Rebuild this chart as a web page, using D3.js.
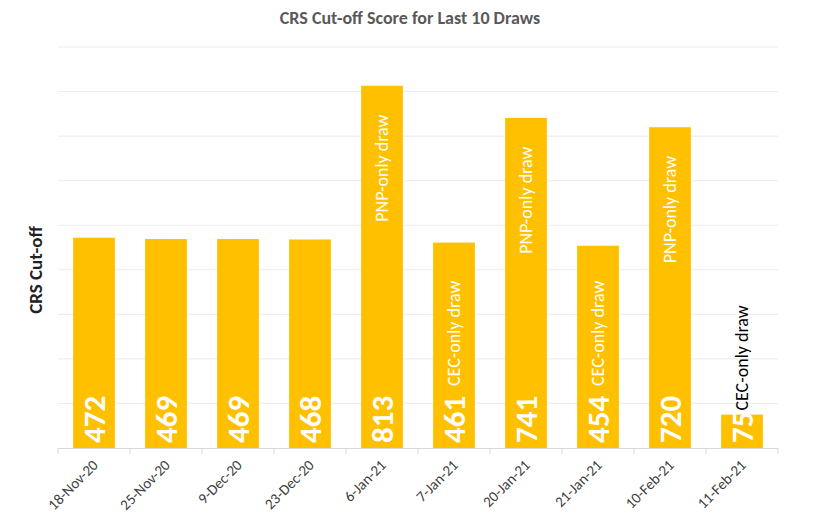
<!DOCTYPE html>
<html><head><meta charset="utf-8">
<script src="https://cdn.jsdelivr.net/npm/d3@7"></script>
<style>body{margin:0;background:#fff;font-family:Calibri,Carlito,"Open Sans",sans-serif;}</style>
</head><body><svg id="chart" width="820" height="530"></svg>
<script>
var dates = ['18-Nov-20','25-Nov-20','9-Dec-20','23-Dec-20','6-Jan-21','7-Jan-21','20-Jan-21','21-Jan-21','10-Feb-21','11-Feb-21'];
var scores = [472, 469, 469, 468, 813, 461, 741, 454, 720, 75];
var notes = ['', '', '', '', 'PNP-only draw', 'CEC-only draw', 'PNP-only draw', 'CEC-only draw', 'PNP-only draw', 'CEC-only draw'];
var yTicks = [0, 100, 200, 300, 400, 500, 600, 700, 800, 900];

var svg = d3.select('#chart');
var x = d3.scaleBand().domain(dates).range([58, 778]).paddingInner(0.42).paddingOuter(0.21);
var y = d3.scaleLinear().domain([0, 900]).range([448, 47]);

// gridlines
svg.selectAll('.grid').data(yTicks.slice(1)).enter().append('line')
    .attr('x1', 58).attr('x2', 778)
    .attr('y1', function(d) { return y(d); }).attr('y2', function(d) { return y(d); })
    .attr('stroke', '#ececec');

svg.selectAll('.bar').data(scores).enter().append('rect')
    .attr('x', function(d, i) { return x(dates[i]); })
    .attr('y', function(d) { return y(d); })
    .attr('width', x.bandwidth())
    .attr('height', function(d) { return y(0) - y(d); })
    .attr('fill', '#ffc000');

// baseline + ticks
svg.append('line').attr('x1', 58).attr('x2', 778).attr('y1', 448.5).attr('y2', 448.5).attr('stroke', '#d9d9d9');
d3.range(11).forEach(function(i) {
    var tx = 58 + i * x.step();
    svg.append('line').attr('x1', tx).attr('x2', tx).attr('y1', 448).attr('y2', 454).attr('stroke', '#d9d9d9');
});

// value labels
svg.selectAll('.val').data(scores).enter().append('text')
    .attr('transform', function(d, i) { return 'translate(' + (x(dates[i]) + x.bandwidth() / 2 + 11) + ',443) rotate(-90)'; })
    .attr('fill', '#fff').attr('font-weight', 'bold').attr('font-size', 31)
    .text(function(d) { return d; });

// notes
svg.selectAll('.note').data(scores).enter().append('text')
    .filter(function(d, i) { return notes[i] !== ''; })
    .attr('transform', function(d) {
        var i = scores.indexOf(d);
        var cx = x(dates[i]) + x.bandwidth() / 2 + 6;
        var yy;
        if (d < 200) yy = y(d) - 4;
        else if (notes[i].indexOf('PNP') === 0) yy = y(d) + 136;
        else yy = 386;
        return 'translate(' + cx + ',' + yy + ') rotate(-90)';
    })
    .attr('fill', function(d) { return d < 200 ? '#000' : '#fff'; })
    .attr('font-size', 18)
    .text(function(d) { return notes[scores.indexOf(d)]; });

// x labels
svg.selectAll('.xl').data(dates).enter().append('text')
    .attr('transform', function(d) { return 'translate(' + (x(d) + x.bandwidth() / 2 + 5) + ',466) rotate(-45)'; })
    .attr('text-anchor', 'end').attr('font-size', 15).attr('fill', '#404040')
    .text(function(d) { return d; });

svg.append('text').attr('transform', 'translate(42,270) rotate(-90)')
    .attr('text-anchor', 'middle').attr('font-weight', 'bold').attr('font-size', 19).attr('fill', '#222')
    .text('CRS Cut-off');

svg.append('text').attr('x', 410).attr('y', 24).attr('text-anchor', 'middle')
    .attr('font-weight', 'bold').attr('font-size', 18).attr('fill', '#595959')
    .text('CRS Cut-off Score for Last 10 Draws');
</script></body></html>
